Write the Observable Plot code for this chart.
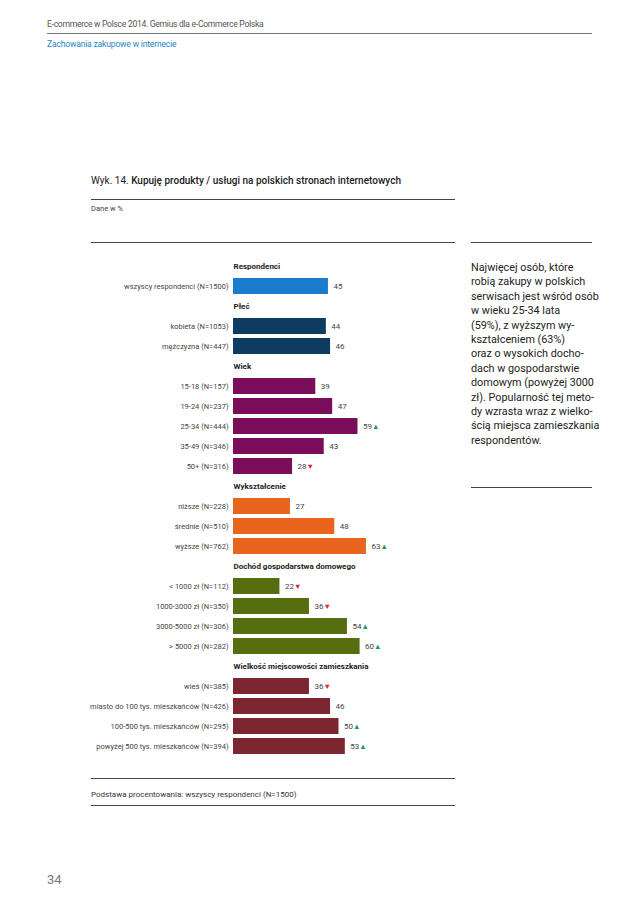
<!DOCTYPE html>
<html>
<head>
<meta charset="utf-8">
<script src="https://cdn.jsdelivr.net/npm/d3@7"></script>
<script src="https://cdn.jsdelivr.net/npm/@observablehq/plot@0.6"></script>
<style>
  html, body { margin: 0; padding: 0; background: #fff; }
  #page { position: relative; width: 638px; height: 903px; font-family: Roboto, "Noto Sans", sans-serif; overflow: hidden; }
  .abs { position: absolute; white-space: nowrap; }
  .hline { position: absolute; height: 0; border-top: 1px solid #444; }
</style>
</head>
<body>
<div id="page">
  <div class="abs" style="left:47px; top:19px; font-size:8.6px; letter-spacing:-0.3px; color:#555;">E-commerce w Polsce 2014. Gemius dla e-Commerce Polska</div>
  <div class="hline" style="left:47px; top:33px; width:545px; border-color:#777;"></div>
  <div class="abs" style="left:47px; top:39px; font-size:8.6px; letter-spacing:-0.2px; color:#2a86c8;">Zachowania zakupowe w internecie</div>

  <div class="abs" style="left:91px; top:175px; font-size:10px; color:#222;">Wyk. 14. <b style="font-weight:500;">Kupuję produkty / usługi na polskich stronach internetowych</b></div>
  <div class="hline" style="left:91px; top:199px; width:364px;"></div>
  <div class="abs" style="left:91px; top:204px; font-size:7.5px; color:#444;">Dane w %</div>
  <div class="hline" style="left:91px; top:242px; width:364px;"></div>

  <div class="hline" style="left:471px; top:242px; width:121px;"></div>
  <div class="abs" id="note" style="left:471px; top:261px; font-size:10.8px; line-height:14.4px; color:#222;"></div>
  <div class="hline" style="left:471px; top:487px; width:121px;"></div>

  <div id="chart" class="abs" style="left:0px; top:255px;"></div>

  <div class="hline" style="left:91px; top:778px; width:364px;"></div>
  <div class="abs" style="left:91px; top:790px; font-size:8px; color:#333;">Podstawa procentowania: wszyscy respondenci (N=1500)</div>
  <div class="hline" style="left:91px; top:805px; width:364px;"></div>

  <div class="abs" style="left:47px; top:872px; font-size:13px; color:#777;">34</div>
</div>
<script>
// ---- data ----
const groups = ["Respondenci", "Płeć", "Wiek", "Wykształcenie", "Dochód gospodarstwa domowego", "Wielkość miejscowości zamieszkania"];
const groupColors = ["#1b7ccb", "#0e3b60", "#7a0e5b", "#e8641f", "#566e0f", "#7c2632"];
const labels = [
  ["wszyscy respondenci (N=1500)"],
  ["kobieta (N=1053)", "mężczyzna (N=447)"],
  ["15-18 (N=157)", "19-24 (N=237)", "25-34 (N=444)", "35-49 (N=346)", "50+ (N=316)"],
  ["niższe (N=228)", "średnie (N=510)", "wyższe (N=762)"],
  ["< 1000 zł (N=112)", "1000-3000 zł (N=350)", "3000-5000 zł (N=306)", "> 5000 zł (N=282)"],
  ["wieś (N=385)", "miasto do 100 tys. mieszkańców (N=426)", "100-500 tys. mieszkańców (N=295)", "powyżej 500 tys. mieszkańców (N=394)"]
];
const values = [
  [45],
  [44, 46],
  [39, 47, 59, 43, 28],
  [27, 48, 63],
  [22, 36, 54, 60],
  [36, 46, 50, 53]
];
// significance: 1 = higher (▲), -1 = lower (▼), 0 = none
const signif = [
  [0],
  [0, 0],
  [0, 0, 1, 0, -1],
  [0, 0, 1],
  [-1, -1, 1, 1],
  [-1, 0, 1, 1]
];
const noteLines = [
  "Najwięcej osób, które",
  "robią zakupy w polskich",
  "serwisach jest wśród osób",
  "w wieku 25-34 lata",
  "(59%), z wyższym wy-",
  "kształceniem (63%)",
  "oraz o wysokich docho-",
  "dach w gospodarstwie",
  "domowym (powyżej 3000",
  "zł). Popularność tej meto-",
  "dy wzrasta wraz z wielko-",
  "ścią miejsca zamieszkania",
  "respondentów."
];

document.getElementById("note").innerHTML = noteLines.map(s => s.replace(/&/g,"&amp;").replace(/</g,"&lt;")).join("<br>");

// ---- build rows ----
const rows = [];
const headers = [];
const bars = [];
groups.forEach((g, gi) => {
  headers.push({row: g});
  rows.push(g);
  labels[gi].forEach((l, li) => {
    rows.push(l);
    bars.push({row: l, value: values[gi][li], color: groupColors[gi], sig: signif[gi][li], label: l});
  });
});
const axisRows = rows.slice(1);
const sigBars = bars.filter(d => d.sig !== 0);

const chart = Plot.plot({
  width: 638,
  height: 502,
  marginLeft: 233,
  marginRight: 194,
  marginTop: 0,
  marginBottom: 0,
  style: {fontFamily: "Roboto, 'Noto Sans', sans-serif", background: "transparent"},
  x: {domain: [0, 100], axis: null},
  y: {domain: rows, axis: null, paddingInner: 0.2, paddingOuter: 0.1, align: 0.5},
  marks: [
    Plot.ruleX(axisRows, {x: 0, y: d => d, stroke: "#222", strokeWidth: 1, insetTop: -0.5, insetBottom: -0.5}),
    Plot.barX(bars, {x: "value", y: "row", fill: "color"}),
    Plot.text(bars, {x: 0, y: "row", text: "label", textAnchor: "end", dx: -5, fontSize: 7.5, fill: "#444"}),
    Plot.text(bars, {x: "value", y: "row", text: d => String(d.value), textAnchor: "start", dx: 5, fontSize: 8, fill: "#444"}),
    Plot.text(sigBars, {x: "value", y: "row", text: d => d.sig > 0 ? "▲" : "▼", textAnchor: "start", dx: 14, fontSize: 7.5, fill: d => d.sig > 0 ? "#1e9a5c" : "#d62a2a"}),
    Plot.text(headers, {x: 0, y: "row", text: "row", textAnchor: "start", fontSize: 8, fontWeight: "bold", fill: "#222", stroke: "white", strokeWidth: 3})
  ]
});
document.getElementById("chart").appendChild(chart);
</script>
</body>
</html>
